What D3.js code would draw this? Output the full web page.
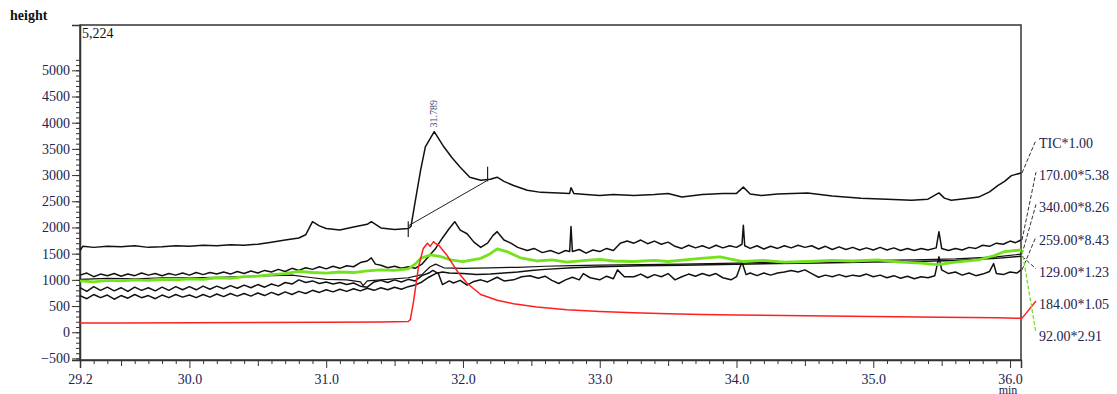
<!DOCTYPE html>
<html>
<head>
<meta charset="utf-8">
<script src="https://cdn.jsdelivr.net/npm/d3@7"></script>
<style>
  body { margin: 0; background: #fff; }
  svg { display: block; }
  text { font-family: "Liberation Serif", "Times New Roman", serif; }
</style>
</head>
<body>
<div id="chart"></div>
<script>
// --- data: [time (min), height] ---
var ticPoints = [[29.2,1560],[29.22,1640],[29.3,1620],[29.4,1640],[29.5,1630],[29.6,1650],[29.7,1620],[29.8,1630],[29.9,1650],[30.0,1640],[30.1,1660],[30.2,1650],[30.3,1670],[30.4,1660],[30.5,1680],[30.6,1720],[30.7,1760],[30.8,1800],[30.85,1860],[30.9,2110],[30.95,2030],[31.0,1980],[31.1,1950],[31.2,2010],[31.3,2060],[31.33,2110],[31.4,1990],[31.5,1960],[31.6,1980],[31.62,2020],[31.64,2330],[31.69,3090],[31.725,3540],[31.79,3830],[31.86,3540],[31.92,3330],[31.98,3150],[32.05,2960],[32.13,2900],[32.2,2920],[32.25,2960],[32.3,2880],[32.37,2800],[32.47,2710],[32.57,2670],[32.7,2660],[32.78,2650],[32.79,2760],[32.81,2650],[32.9,2630],[33.0,2610],[33.1,2630],[33.25,2610],[33.4,2630],[33.5,2650],[33.6,2580],[33.75,2630],[33.9,2650],[34.0,2650],[34.05,2770],[34.1,2640],[34.18,2610],[34.3,2640],[34.52,2660],[34.7,2600],[34.91,2560],[35.1,2540],[35.28,2520],[35.4,2540],[35.48,2660],[35.52,2560],[35.57,2520],[35.7,2560],[35.77,2580],[35.85,2680],[35.91,2800],[35.96,2880],[36.01,2990],[36.08,3040]];

var ion170Points = [[29.2,1090],[29.25,1130],[29.3,1060],[29.35,1110],[29.4,1080],[29.45,1120],[29.5,1070],[29.55,1110],[29.6,1080],[29.65,1130],[29.7,1090],[29.75,1120],[29.8,1080],[29.85,1120],[29.9,1090],[29.95,1130],[30.0,1090],[30.05,1140],[30.1,1100],[30.15,1140],[30.2,1110],[30.25,1150],[30.3,1110],[30.35,1160],[30.4,1120],[30.45,1170],[30.5,1130],[30.55,1180],[30.6,1150],[30.65,1200],[30.7,1160],[30.75,1220],[30.8,1180],[30.85,1230],[30.9,1200],[30.95,1250],[31.0,1210],[31.05,1260],[31.1,1220],[31.15,1270],[31.2,1250],[31.25,1330],[31.3,1360],[31.33,1420],[31.36,1300],[31.4,1280],[31.45,1230],[31.5,1260],[31.55,1220],[31.6,1250],[31.65,1220],[31.7,1300],[31.75,1450],[31.8,1600],[31.85,1800],[31.9,1980],[31.94,2110],[31.98,1950],[32.03,1880],[32.08,1720],[32.13,1620],[32.18,1700],[32.22,1850],[32.25,1920],[32.3,1760],[32.35,1700],[32.4,1620],[32.47,1560],[32.52,1600],[32.58,1520],[32.64,1560],[32.7,1500],[32.75,1560],[32.78,1540],[32.79,2020],[32.8,1540],[32.85,1580],[32.9,1510],[32.95,1570],[33.0,1540],[33.05,1600],[33.1,1560],[33.15,1700],[33.2,1740],[33.25,1700],[33.3,1760],[33.35,1690],[33.4,1740],[33.45,1680],[33.5,1720],[33.55,1640],[33.6,1600],[33.65,1660],[33.7,1610],[33.75,1650],[33.8,1600],[33.85,1660],[33.9,1610],[33.95,1650],[34.0,1620],[34.04,1680],[34.05,2040],[34.06,1650],[34.1,1600],[34.15,1650],[34.2,1590],[34.25,1640],[34.3,1600],[34.35,1650],[34.4,1610],[34.45,1660],[34.5,1620],[34.55,1650],[34.6,1590],[34.65,1640],[34.7,1580],[34.75,1630],[34.8,1580],[34.85,1620],[34.9,1570],[34.95,1610],[35.0,1570],[35.05,1620],[35.1,1570],[35.15,1610],[35.2,1560],[35.25,1600],[35.3,1560],[35.35,1600],[35.4,1570],[35.46,1610],[35.48,1920],[35.5,1600],[35.55,1560],[35.6,1600],[35.65,1570],[35.7,1620],[35.75,1600],[35.8,1660],[35.85,1640],[35.9,1700],[35.95,1680],[36.0,1740],[36.04,1710],[36.08,1760]];

var ion340Points = [[29.2,1010],[29.4,1030],[29.6,1020],[29.8,1040],[30.0,1040],[30.2,1050],[30.4,1060],[30.6,1080],[30.75,1090],[30.9,1040],[31.0,1010],[31.15,1000],[31.25,960],[31.27,890],[31.3,980],[31.45,1010],[31.6,1040],[31.7,1100],[31.76,1250],[31.8,1300],[31.86,1230],[32.0,1220],[32.2,1230],[32.4,1240],[32.6,1260],[32.8,1270],[33.0,1280],[33.3,1290],[33.6,1300],[34.0,1320],[34.3,1340],[34.6,1350],[35.0,1370],[35.3,1380],[35.6,1400],[35.9,1440],[36.08,1490]];

var ion259Points = [[29.2,850],[29.25,780],[29.3,870],[29.35,800],[29.4,860],[29.45,790],[29.5,850],[29.55,780],[29.6,860],[29.65,800],[29.7,850],[29.75,790],[29.8,860],[29.85,800],[29.9,870],[29.95,810],[30.0,870],[30.05,810],[30.1,880],[30.15,820],[30.2,880],[30.25,830],[30.3,890],[30.35,840],[30.4,900],[30.45,850],[30.5,910],[30.55,860],[30.6,920],[30.65,880],[30.7,950],[30.75,920],[30.8,1000],[30.85,950],[30.9,980],[30.95,930],[31.0,960],[31.05,920],[31.1,950],[31.15,910],[31.2,940],[31.25,880],[31.3,860],[31.35,960],[31.4,990],[31.45,950],[31.5,1000],[31.55,960],[31.6,1010],[31.65,980],[31.7,1080],[31.75,1130],[31.78,1180],[31.82,1120],[31.85,910],[31.9,980],[31.93,940],[31.98,990],[32.03,900],[32.08,970],[32.13,1000],[32.18,960],[32.25,1050],[32.3,980],[32.37,1000],[32.43,1060],[32.49,1080],[32.55,1030],[32.6,1070],[32.65,990],[32.7,930],[32.75,1000],[32.8,1050],[32.85,1000],[32.88,1120],[32.93,1040],[33.0,1000],[33.05,1070],[33.1,1020],[33.13,1190],[33.18,1060],[33.25,1060],[33.3,1110],[33.35,1040],[33.4,1100],[33.45,1060],[33.5,1120],[33.55,1000],[33.6,1060],[33.65,1110],[33.7,1070],[33.75,1120],[33.8,1080],[33.85,1120],[33.9,1040],[33.96,1000],[34.0,1060],[34.04,1340],[34.07,1100],[34.1,1130],[34.15,1080],[34.2,1130],[34.25,1090],[34.3,1130],[34.35,1150],[34.4,1180],[34.45,1150],[34.5,1190],[34.55,1120],[34.6,1050],[34.65,1090],[34.7,1060],[34.75,1100],[34.8,1060],[34.85,1090],[34.9,1070],[34.95,1110],[35.0,1060],[35.05,1090],[35.1,1040],[35.15,1080],[35.2,1030],[35.25,1070],[35.3,1020],[35.35,1060],[35.4,1040],[35.45,1080],[35.48,1440],[35.5,1190],[35.55,1120],[35.6,1150],[35.65,1090],[35.7,1130],[35.75,1080],[35.8,1110],[35.85,1160],[35.88,1310],[35.9,1120],[35.95,1100],[36.0,1150],[36.05,1130],[36.08,1190]];

var ion129Points = [[29.2,700],[29.25,640],[29.3,720],[29.35,660],[29.4,710],[29.45,630],[29.5,700],[29.55,650],[29.6,720],[29.65,660],[29.7,700],[29.75,640],[29.8,710],[29.85,660],[29.9,720],[29.95,670],[30.0,710],[30.05,660],[30.1,720],[30.15,670],[30.2,730],[30.25,680],[30.3,740],[30.35,690],[30.4,740],[30.45,690],[30.5,750],[30.55,700],[30.6,760],[30.65,710],[30.7,770],[30.75,720],[30.8,780],[30.85,740],[30.9,800],[30.95,760],[31.0,810],[31.05,770],[31.1,820],[31.15,780],[31.2,830],[31.25,790],[31.3,840],[31.35,800],[31.4,850],[31.45,810],[31.5,860],[31.55,820],[31.6,870],[31.65,900],[31.7,960],[31.75,1050],[31.8,1120],[31.85,1150],[31.9,1130],[32.0,1120],[32.1,1100],[32.2,1110],[32.3,1130],[32.4,1150],[32.5,1180],[32.6,1200],[32.8,1230],[33.0,1250],[33.3,1270],[33.6,1280],[34.0,1300],[34.3,1310],[34.6,1320],[35.0,1340],[35.3,1350],[35.6,1370],[35.9,1410],[36.08,1450]];

var ion184Points = [[29.2,175],[29.5,175],[30.0,180],[30.5,185],[31.0,190],[31.4,195],[31.6,205],[31.615,240],[31.64,610],[31.675,1250],[31.71,1600],[31.74,1700],[31.76,1640],[31.785,1730],[31.8,1690],[31.82,1670],[31.88,1480],[31.96,1160],[32.03,935],[32.13,720],[32.25,610],[32.37,545],[32.54,480],[32.76,430],[33.0,395],[33.25,370],[33.5,355],[33.75,340],[34.0,330],[34.5,315],[35.0,300],[35.5,285],[35.9,275],[36.08,267]];

var ion92Points = [[29.2,980],[29.3,960],[29.4,990],[29.5,980],[29.6,1000],[29.7,990],[29.8,1010],[29.9,1000],[30.0,1020],[30.1,1010],[30.2,1040],[30.3,1030],[30.4,1060],[30.5,1070],[30.6,1100],[30.7,1120],[30.8,1160],[30.9,1140],[31.0,1130],[31.1,1150],[31.2,1140],[31.3,1170],[31.4,1190],[31.5,1180],[31.6,1210],[31.65,1300],[31.69,1410],[31.76,1475],[31.83,1450],[31.91,1380],[32.0,1350],[32.13,1410],[32.2,1500],[32.25,1590],[32.32,1540],[32.42,1420],[32.54,1360],[32.65,1380],[32.76,1340],[32.9,1370],[33.0,1390],[33.1,1360],[33.25,1350],[33.4,1370],[33.5,1350],[33.62,1380],[33.74,1410],[33.88,1440],[33.95,1400],[34.05,1350],[34.2,1370],[34.35,1340],[34.52,1350],[34.7,1370],[34.85,1360],[35.03,1380],[35.2,1340],[35.35,1320],[35.47,1290],[35.6,1340],[35.77,1380],[35.88,1460],[35.96,1540],[36.08,1570]];

// integration baseline of the TIC peak
var baselineTimes = [31.6, 32.18];
var baselineValues = [2030, 2900];
var baselineMarks = [[1820, 2120], [2880, 3160]];
var peakTime = 31.789, peakHeight = 3830, peakLabel = "31.789";

var legendLabels = ["TIC*1.00", "170.00*5.38", "340.00*8.26", "259.00*8.43", "129.00*1.23", "184.00*1.05", "92.00*2.91"];
var yTickValues = [-500, 0, 500, 1000, 1500, 2000, 2500, 3000, 3500, 4000, 4500, 5000];
var xTickValues = [29.2, 30.0, 31.0, 32.0, 33.0, 34.0, 35.0, 36.0];
var maxLabel = "5,224";

var series = [
    { points: ion170Points, color: "#111", width: 1.5 },
    { points: ion340Points, color: "#111", width: 1.2 },
    { points: ion259Points, color: "#111", width: 1.5 },
    { points: ion129Points, color: "#111", width: 1.5 },
    { points: ion92Points, color: "#74e21c", width: 2.8 },
    { points: ion184Points, color: "#ff1f1f", width: 1.5 },
    { points: ticPoints, color: "#111", width: 1.5 }
];

var W = 1117, H = 394;
var font = "Liberation Serif, Times New Roman, serif";
var textColor = "#1c2350";

var svg = d3.select("#chart").append("svg")
    .attr("width", W).attr("height", H)
    .attr("font-family", font);

var x = d3.scaleLinear().domain([29.2, 36.08]).range([80, 1021]);
var y = d3.scaleLinear().domain([-530, 5865]).range([360, 25]);

// --- frame ---
svg.append("rect")
    .attr("x", x.range()[0]).attr("y", y.range()[1])
    .attr("width", x.range()[1] - x.range()[0])
    .attr("height", y.range()[0] - y.range()[1])
    .attr("fill", "none").attr("stroke", "#333").attr("stroke-width", 1.5);

function styleAxis(g) {
    g.attr("font-family", font).attr("font-size", 14);
    g.selectAll("line").attr("stroke", "#333");
    g.selectAll("text").attr("fill", textColor);
}

// --- y axis (major + minor ticks) ---
var yMinor = d3.range(-500, 5201, 100);
svg.append("g")
    .attr("transform", "translate(" + x.range()[0] + ",0)")
    .call(d3.axisLeft(y).tickValues(yMinor).tickSize(4).tickFormat(""))
    .call(g => g.select(".domain").remove())
    .call(styleAxis);
svg.append("g")
    .attr("transform", "translate(" + x.range()[0] + ",0)")
    .call(d3.axisLeft(y).tickValues(yTickValues).tickSize(8).tickPadding(2).tickFormat(d3.format("d")))
    .call(g => g.select(".domain").attr("stroke", "#333").attr("stroke-width", 1.5))
    .call(styleAxis);

// --- x axis ---
var xMinor = d3.range(292, 361, 1).map(d => d / 10);
svg.append("g")
    .attr("transform", "translate(0," + y.range()[0] + ")")
    .call(d3.axisBottom(x).tickValues(xMinor.filter(d => Math.round(d * 10) % 5 !== 0)).tickSize(4).tickFormat(""))
    .call(g => g.select(".domain").remove())
    .call(styleAxis);
svg.append("g")
    .attr("transform", "translate(0," + y.range()[0] + ")")
    .call(d3.axisBottom(x).tickValues(xMinor.filter(d => Math.round(d * 10) % 10 === 5)).tickSize(6).tickFormat(""))
    .call(g => g.select(".domain").remove())
    .call(styleAxis);
svg.append("g")
    .attr("transform", "translate(0," + y.range()[0] + ")")
    .call(d3.axisBottom(x).tickValues(xTickValues).tickSize(8).tickPadding(6).tickFormat(d3.format(".1f")))
    .call(g => g.select(".domain").attr("stroke", "#333").attr("stroke-width", 1.5))
    .call(styleAxis);

svg.append("text").attr("x", 1008).attr("y", 394).attr("text-anchor", "middle")
    .attr("fill", textColor).attr("font-size", 12).text("min");
svg.append("text").attr("x", 10).attr("y", 20)
    .attr("fill", "#111").attr("font-size", 14).attr("font-weight", "bold").text("height");
svg.append("text").attr("x", 82).attr("y", 38)
    .attr("fill", "#111").attr("font-size", 14).text(maxLabel);

// --- traces ---
var line = d3.line().x(d => x(d[0])).y(d => y(d[1]));
var plot = svg.append("g");
series.forEach(function (s) {
    plot.append("path")
        .datum(s.points)
        .attr("fill", "none")
        .attr("stroke", s.color)
        .attr("stroke-width", s.width)
        .attr("stroke-linejoin", "round")
        .attr("d", line);
});

// baseline and peak marks
plot.append("line")
    .attr("x1", x(baselineTimes[0])).attr("y1", y(baselineValues[0]))
    .attr("x2", x(baselineTimes[1])).attr("y2", y(baselineValues[1]))
    .attr("stroke", "#222").attr("stroke-width", 1);
baselineMarks.forEach(function (m, i) {
    plot.append("line")
        .attr("x1", x(baselineTimes[i])).attr("x2", x(baselineTimes[i]))
        .attr("y1", y(m[0])).attr("y2", y(m[1]))
        .attr("stroke", "#222").attr("stroke-width", 1.2);
});
svg.append("text")
    .attr("transform", "translate(" + (x(peakTime) + 3) + "," + (y(peakHeight) - 4) + ") rotate(-90)")
    .attr("fill", "#3a4a7a").attr("font-size", 10).text(peakLabel);

// --- labels on the right with leader lines ---
var labelOrder = [ticPoints, ion170Points, ion340Points, ion259Points, ion129Points, ion184Points, ion92Points];
var labelColors = ["#333", "#333", "#333", "#333", "#333", "#ff1f1f", "#74e21c"];
legendLabels.forEach(function (lbl, i) {
    var ly = 143 + i * 32.2;
    var pts = labelOrder[i];
    var last = pts[pts.length - 1];
    svg.append("line")
        .attr("x1", x(last[0]) + 1).attr("y1", y(last[1]))
        .attr("x2", 1036).attr("y2", ly - 3)
        .attr("stroke", labelColors[i]).attr("stroke-width", i >= 5 ? 1.3 : 1)
        .attr("stroke-dasharray", i === 5 ? null : "4,2");
    svg.append("text")
        .attr("x", 1039).attr("y", ly + 5)
        .attr("fill", textColor).attr("font-size", 14).text(lbl);
});
</script>
</body>
</html>
